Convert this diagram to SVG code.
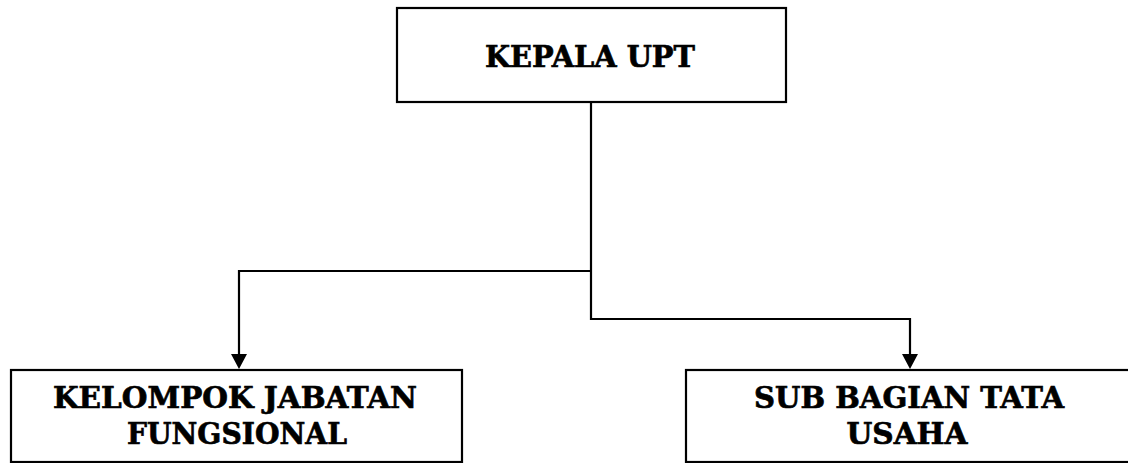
<svg xmlns="http://www.w3.org/2000/svg" width="1128" height="463" viewBox="0 0 1128 463">
<style>
.box{fill:#fff;stroke:#000;stroke-width:2.2}
.lbl{font-family:"DejaVu Serif","Liberation Serif",serif;font-weight:bold;font-size:30px;fill:#000;stroke:#000;stroke-width:0.7;text-anchor:middle}
.conn{fill:none;stroke:#000;stroke-width:2.2}
.head{fill:#000}
</style>
<g id="connectors">
<path class="conn" d="M591,102 V319 H910 V355"/>
<path class="conn" d="M591,271 H239 V355"/>
<polygon class="head" points="231,354 247,354 239,369"/>
<polygon class="head" points="902,354 918,354 910,369"/>
</g>
<g id="kepala">
<rect class="box" x="397" y="8" width="389" height="94"/>
<text class="lbl" x="590" y="67" textLength="210" lengthAdjust="spacingAndGlyphs">KEPALA UPT</text>
</g>
<g id="kelompok">
<rect class="box" x="11" y="370" width="451" height="92"/>
<text class="lbl" x="235" y="408" textLength="364" lengthAdjust="spacingAndGlyphs">KELOMPOK JABATAN</text>
<text class="lbl" x="237" y="444" textLength="220" lengthAdjust="spacingAndGlyphs">FUNGSIONAL</text>
</g>
<g id="subbagian">
<rect class="box" x="686" y="370" width="460" height="92"/>
<text class="lbl" x="909" y="408" textLength="310" lengthAdjust="spacingAndGlyphs">SUB BAGIAN TATA</text>
<text class="lbl" x="907" y="444" textLength="121" lengthAdjust="spacingAndGlyphs">USAHA</text>
</g>
</svg>
